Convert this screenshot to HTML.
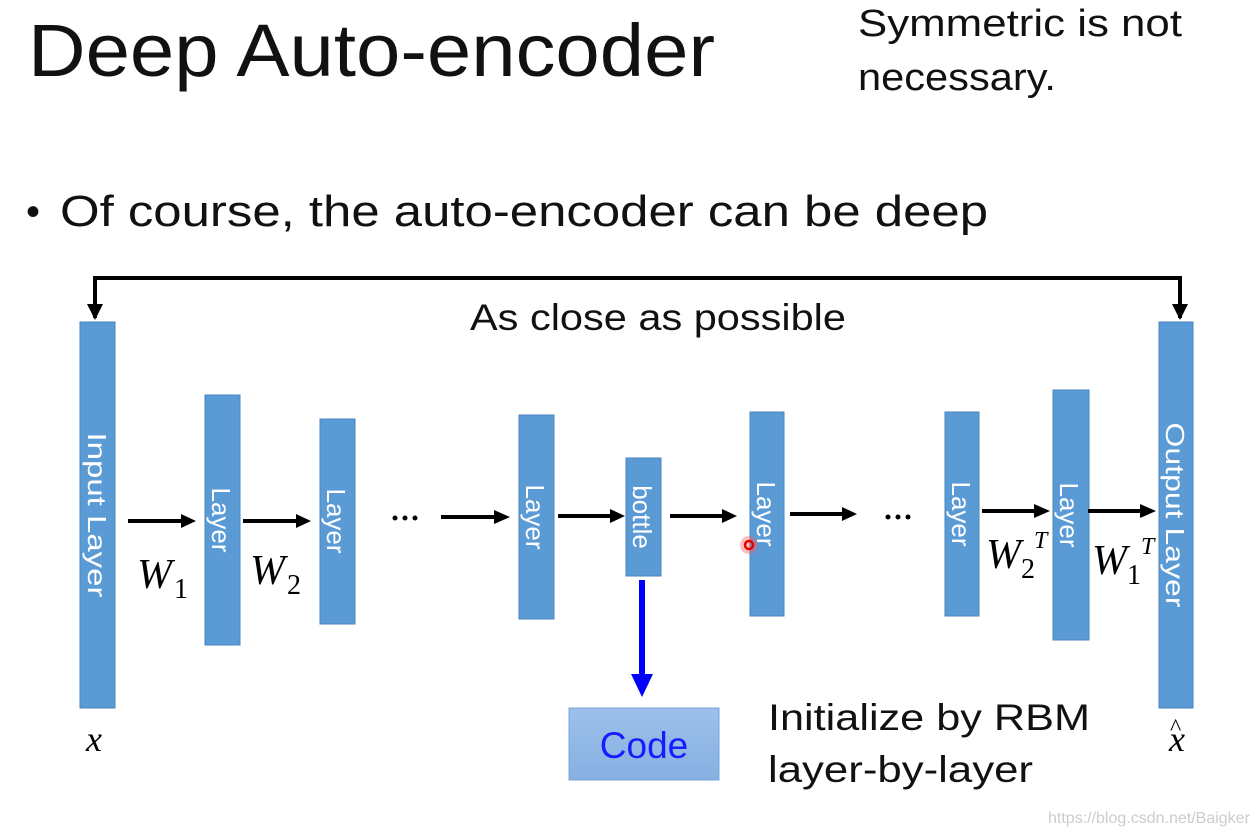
<!DOCTYPE html>
<html><head><meta charset="utf-8"><style>
html,body{margin:0;padding:0;background:#fff;width:1258px;height:832px;overflow:hidden}
svg{display:block}
</style></head><body>
<svg width="1258" height="832" viewBox="0 0 1258 832" xmlns="http://www.w3.org/2000/svg">
<defs>
<linearGradient id="g" x1="0" y1="0" x2="0" y2="1"><stop offset="0" stop-color="#9cc0ea"/><stop offset="1" stop-color="#86b0e2"/></linearGradient>
</defs>
<g font-family="Liberation Sans, sans-serif" fill="#111">
<text x="28" y="76" font-size="74" textLength="687" lengthAdjust="spacingAndGlyphs">Deep Auto-encoder</text>
<text x="858" y="36" font-size="38" textLength="324" lengthAdjust="spacingAndGlyphs">Symmetric is not</text>
<text x="858" y="90" font-size="38" textLength="198" lengthAdjust="spacingAndGlyphs">necessary.</text>
<text x="26" y="225" font-size="40">•</text>
<text x="60" y="226" font-size="44" textLength="928" lengthAdjust="spacingAndGlyphs">Of course, the auto-encoder can be deep</text>
<text x="470" y="330" font-size="37" textLength="376" lengthAdjust="spacingAndGlyphs">As close as possible</text>
<text x="768" y="730" font-size="37" textLength="322" lengthAdjust="spacingAndGlyphs">Initialize by RBM</text>
<text x="768" y="782" font-size="37" textLength="265" lengthAdjust="spacingAndGlyphs">layer-by-layer</text>
</g>
<polyline points="95,318 95,278 1180,278 1180,318" fill="none" stroke="#000" stroke-width="4"/>
<path d="M87,304 L103,304 L95,320 z" fill="#000"/>
<path d="M1172,304 L1188,304 L1180,320 z" fill="#000"/>
<g fill="#5b9bd5" stroke="#4a86c0" stroke-width="1">
<rect x="80" y="322" width="35" height="386"/>
<rect x="205" y="395" width="35" height="250"/>
<rect x="320" y="419" width="35" height="205"/>
<rect x="519" y="415" width="35" height="204"/>
<rect x="626" y="458" width="35" height="118"/>
<rect x="750" y="412" width="34" height="204"/>
<rect x="945" y="412" width="34" height="204"/>
<rect x="1053" y="390" width="36" height="250"/>
<rect x="1159" y="322" width="34" height="386"/>
</g>
<g font-family="Liberation Sans, sans-serif" fill="#fff" font-size="26">
<text transform="translate(88,515) rotate(90)" text-anchor="middle" textLength="165" lengthAdjust="spacingAndGlyphs">Input Layer</text>
<text transform="translate(212,520) rotate(90)" text-anchor="middle">Layer</text>
<text transform="translate(327,521) rotate(90)" text-anchor="middle">Layer</text>
<text transform="translate(526,517) rotate(90)" text-anchor="middle">Layer</text>
<text transform="translate(633,517) rotate(90)" text-anchor="middle">bottle</text>
<text transform="translate(757,514) rotate(90)" text-anchor="middle">Layer</text>
<text transform="translate(952,514) rotate(90)" text-anchor="middle">Layer</text>
<text transform="translate(1060,515) rotate(90)" text-anchor="middle">Layer</text>
<text transform="translate(1166,515) rotate(90)" text-anchor="middle" textLength="185" lengthAdjust="spacingAndGlyphs">Output Layer</text>
</g>
<g stroke="#000" stroke-width="4">
<line x1="128" y1="521" x2="183" y2="521"/><line x1="243" y1="521" x2="298" y2="521"/>
<line x1="441" y1="517" x2="496" y2="517"/><line x1="558" y1="516" x2="612" y2="516"/>
<line x1="670" y1="516" x2="724" y2="516"/><line x1="790" y1="514" x2="844" y2="514"/>
<line x1="982" y1="511" x2="1036" y2="511"/><line x1="1088" y1="511" x2="1142" y2="511"/>
</g>
<g fill="#000">
<path d="M181,514 L196,521 L181,528 z"/><path d="M296,514 L311,521 L296,528 z"/>
<path d="M494,510 L510,517 L494,524 z"/><path d="M610,509 L625,516 L610,523 z"/>
<path d="M722,509 L737,516 L722,523 z"/><path d="M842,507 L857,514 L842,521 z"/>
<path d="M1034,504 L1050,511 L1034,518 z"/><path d="M1140,504 L1156,511 L1140,518 z"/>
<circle cx="395" cy="518" r="2.5"/><circle cx="405" cy="518" r="2.5"/><circle cx="415" cy="518" r="2.5"/>
<circle cx="888" cy="517" r="2.5"/><circle cx="898" cy="517" r="2.5"/><circle cx="908" cy="517" r="2.5"/>
</g>
<line x1="642" y1="580" x2="642" y2="678" stroke="#0000ff" stroke-width="6"/>
<path d="M631,674 L653,674 L642,697 z" fill="#0000ff"/>
<rect x="569" y="708" width="150" height="72" fill="url(#g)" stroke="#7aa5d8"/>
<text x="644" y="758" font-family="Liberation Sans, sans-serif" font-size="37" fill="#1a1aff" text-anchor="middle">Code</text>
<g font-family="Liberation Serif, serif" font-style="italic" fill="#000">
<text x="137" y="588" font-size="42">W</text><text x="174" y="598" font-size="28" font-style="normal">1</text>
<text x="250" y="584" font-size="42">W</text><text x="287" y="594" font-size="28" font-style="normal">2</text>
<text x="986" y="568" font-size="42">W</text><text x="1021" y="578" font-size="28" font-style="normal">2</text><text x="1034" y="548" font-size="24">T</text>
<text x="1092" y="574" font-size="42">W</text><text x="1127" y="584" font-size="28" font-style="normal">1</text><text x="1141" y="554" font-size="24">T</text>
<text x="86" y="751" font-size="36">x</text>
<text x="1169" y="751" font-size="36">x</text><text x="1170" y="735" font-size="24" font-style="normal">^</text>
</g>
<circle cx="749" cy="545" r="9" fill="#ff6060" opacity="0.4"/>
<circle cx="749" cy="545" r="4" fill="none" stroke="#e00" stroke-width="2.5"/>
<text x="1048" y="823" font-family="Liberation Sans, sans-serif" font-size="16" fill="#ccc">https://blog.csdn.net/Baigker</text>
</svg>
</body></html>
